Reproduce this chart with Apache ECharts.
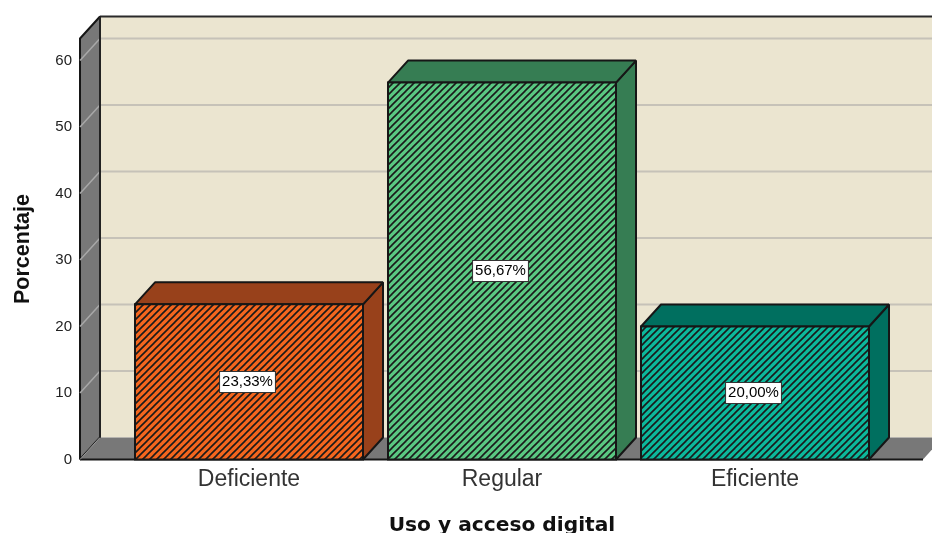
<!DOCTYPE html>
<html><head><meta charset="utf-8">
<style>html,body{margin:0;padding:0;background:#fff}#c{width:932px;height:533px}</style>
<script src="https://cdn.jsdelivr.net/npm/echarts@6/dist/echarts.min.js"></script>
</head><body><div id="c"></div>
<script>
const categories = ['Deficiente', 'Regular', 'Eficiente'];
const percentages = [23.33, 56.67, 20.00];
const valueLabels = ['23,33%', '56,67%', '20,00%'];
const yTicks = [0, 10, 20, 30, 40, 50, 60];
const frontColors = ['#f4661e', '#5ac882', '#0cb89c'];
const sideColors = ['#98411b', '#367d53', '#006f5f'];
const yMax = 63.3;

const DX = 20, DY = 22, INK = '#161616', FONT = '"Liberation Sans", Arial, sans-serif';
const FLOOR_LEFT = -42.5, FLOOR_RIGHT = 41.5, BAR_WIDTH = 228;

function hatch(color) {
  const p = 7;
  const c = document.createElement('canvas');
  c.width = p; c.height = p;
  const g = c.getContext('2d');
  g.fillStyle = color; g.fillRect(0, 0, p, p);
  g.strokeStyle = '#1a1a1a'; g.lineWidth = 1.6; g.lineCap = 'square';
  for (let i = -1; i <= 1; i++) {
    g.beginPath();
    g.moveTo(i * p - 1, p + 1);
    g.lineTo(i * p + p + 1, -1);
    g.stroke();
  }
  return c;
}
const patterns = frontColors.map(hatch);

function poly(points, fill, stroke, lw) {
  return { type: 'polygon', shape: { points }, style: { fill, stroke: stroke || INK, lineWidth: lw === undefined ? 2 : lw, lineJoin: 'bevel' } };
}
function line(points, color, lw) {
  return { type: 'polyline', shape: { points }, style: { fill: null, stroke: color, lineWidth: lw } };
}

function renderBox(params, api) {
  const cs = params.coordSys;
  const y0 = api.coord([0, 0])[1], yTop = cs.y;
  const L = cs.x + FLOOR_LEFT, R = cs.x + cs.width + FLOOR_RIGHT;
  const children = [
    poly([[L + DX, yTop - DY], [R + DX + 20, yTop - DY], [R + DX + 20, y0 - DY], [L + DX, y0 - DY]], '#ebe5d0', INK, 0),
    line([[L + DX, yTop - DY], [R + DX + 20, yTop - DY]], '#2a2a2a', 2),
    poly([[L, yTop], [L + DX, yTop - DY], [L + DX, y0 - DY], [L, y0]], '#787878'),
    poly([[L, y0], [L + DX, y0 - DY], [R + DX, y0 - DY], [R, y0]], '#787878', INK, 0),
    line([[L, y0], [R, y0]], INK, 2)
  ];
  yTicks.forEach(function (t) {
    const y = api.coord([0, t])[1];
    if (t > 0) {
      children.push(line([[L + DX, y - DY], [R + DX + 20, y - DY]], '#c6c2b8', 2));
      children.push(line([[L, y], [L + DX, y - DY]], '#a8a8a8', 1.5));
    } else {
      children.push(line([[L, y], [L + DX, y - DY]], '#9a9a9a', 1));
    }
  });
  children.push(line([[L + DX, yTop - DY], [L + DX, y0 - DY]], '#222', 2));
  return { type: 'group', children };
}

function renderBar(params, api) {
  const i = api.value(0), v = api.value(1);
  const c = api.coord([i, 0]), t = api.coord([i, v]);
  const x0 = c[0] - BAR_WIDTH / 2, x1 = c[0] + BAR_WIDTH / 2, y0 = c[1], y1 = t[1];
  const mid = (y0 + y1) / 2;
  return { type: 'group', children: [
    poly([[x1, y1], [x1 + DX, y1 - DY], [x1 + DX, y0 - DY], [x1, y0]], sideColors[i]),
    poly([[x0, y1], [x0 + DX, y1 - DY], [x1 + DX, y1 - DY], [x1, y1]], sideColors[i]),
    { type: 'rect', shape: { x: x0, y: y1, width: BAR_WIDTH, height: y0 - y1 },
      style: { fill: { image: patterns[i], repeat: 'repeat' }, stroke: INK, lineWidth: 2 } },
    { type: 'text', x: c[0] - 1.5, y: mid,
      style: { text: valueLabels[i], font: '15px ' + FONT, fill: '#000', align: 'center', verticalAlign: 'middle',
        backgroundColor: '#fff', borderColor: '#333', borderWidth: 1, padding: [3, 2, 2, 2] } }
  ]};
}

const chart = echarts.init(document.getElementById('c'), null, { renderer: 'canvas' });
chart.setOption({
  animation: false,
  grid: { left: 122.5, width: 759, top: 38.5, bottom: 73.5, containLabel: false, outerBoundsMode: 'none' },
  xAxis: {
    type: 'category', data: categories,
    axisLine: { show: false }, axisTick: { show: false }, splitLine: { show: false },
    axisLabel: { color: '#333', fontFamily: FONT, fontSize: 23, margin: 9 },
    name: 'Uso y acceso digital', nameLocation: 'middle', nameGap: 56,
    nameTextStyle: { color: '#111', fontFamily: '"DejaVu Sans", sans-serif', fontSize: 20.2, fontWeight: 'bold' }
  },
  yAxis: {
    type: 'value', min: 0, max: yMax, interval: 10, offset: 42.5,
    axisLine: { show: false }, axisTick: { show: false }, splitLine: { show: false },
    axisLabel: { color: '#222', fontFamily: FONT, fontSize: 15, margin: 8, customValues: yTicks },
    name: 'Porcentaje', nameLocation: 'middle', nameGap: 46, nameRotate: 90,
    nameTextStyle: { color: '#111', fontFamily: FONT, fontSize: 21.5, fontWeight: 'bold' }
  },
  series: [
    { type: 'custom', renderItem: renderBox, data: [[0, 0]], clip: false, silent: true, z: 1,
      encode: { x: 0, y: 1 } },
    { type: 'custom', renderItem: renderBar, clip: false, silent: true, z: 2,
      data: categories.map((_, i) => [i, percentages[i]]), encode: { x: 0, y: 1 } }
  ]
});
</script></body></html>
